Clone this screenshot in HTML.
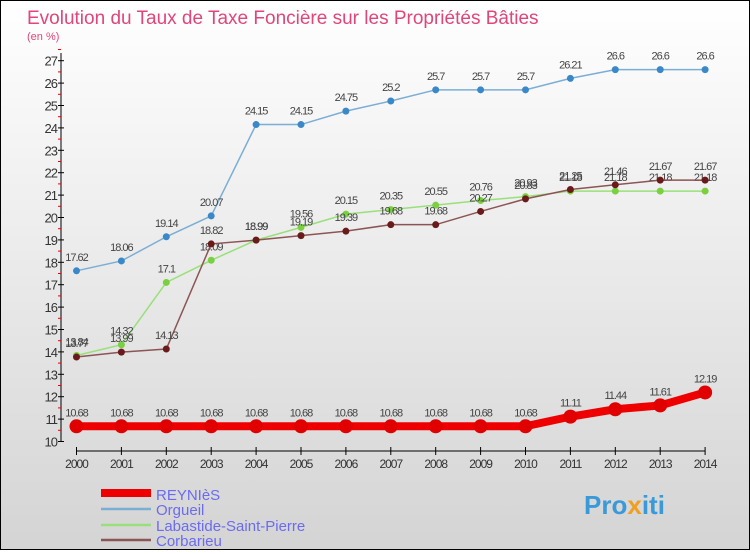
<!DOCTYPE html>
<html><head><meta charset="utf-8"><style>
body{margin:0;width:750px;height:550px;overflow:hidden;font-family:"Liberation Sans",sans-serif}
#wrap{position:relative;width:748px;height:548px;border:1px solid #000;background:linear-gradient(#ffffff,#d4d4d4)}
</style></head><body>
<div id="wrap">
<svg id="chart" width="748" height="548">
<text x="26" y="23" font-size="19" fill="#e0457b">Evolution du Taux de Taxe Foncière sur les Propriétés Bâties</text>
<text x="26" y="39" font-size="11" fill="#e0457b">(en %)</text>
<g id="axes"></g><g id="series"></g>
<g>
<line x1="100" y1="492" x2="150" y2="492" stroke="#ee0000" stroke-width="8"/>
<text x="155" y="499" font-size="15" fill="#6b6bf0">REYNIèS</text>
<line x1="100" y1="508" x2="150" y2="508" stroke="#7aaed4" stroke-width="2.5"/>
<text x="155" y="514" font-size="15" fill="#6b6bf0">Orgueil</text>
<line x1="100" y1="524" x2="150" y2="524" stroke="#99e07a" stroke-width="2.5"/>
<text x="155" y="530" font-size="15" fill="#6b6bf0">Labastide-Saint-Pierre</text>
<line x1="100" y1="539" x2="150" y2="539" stroke="#8b5555" stroke-width="2.5"/>
<text x="155" y="545" font-size="15" fill="#6b6bf0">Corbarieu</text>
</g>
<text x="583" y="513" font-size="26" font-weight="bold" fill="#3a9ad9">Pro<tspan fill="#f0a020">x</tspan>iti</text>
</svg></div>
<script>
const years=[2000,2001,2002,2003,2004,2005,2006,2007,2008,2009,2010,2011,2012,2013,2014];
const reynies=[10.68,10.68,10.68,10.68,10.68,10.68,10.68,10.68,10.68,10.68,10.68,11.11,11.44,11.61,12.19];
const orgueil=[17.62,18.06,19.14,20.07,24.15,24.15,24.75,25.2,25.7,25.7,25.7,26.21,26.6,26.6,26.6];
const labastide=[13.84,14.32,17.1,18.09,18.99,19.56,20.15,20.35,20.55,20.76,20.93,21.18,21.18,21.18,21.18];
const corbarieu=[13.77,13.99,14.13,18.82,18.99,19.19,19.39,19.68,19.68,20.27,20.83,21.25,21.46,21.67,21.67];
const yTicks=[10,11,12,13,14,15,16,17,18,19,20,21,22,23,24,25,26,27];
const NS="http://www.w3.org/2000/svg";
const x=i=>75.5+i*44.9;
const y=v=>440.5-(v-10)*22.4;
function mk(t,a,p){const e=document.createElementNS(NS,t);for(const k in a)e.setAttribute(k,a[k]);p.appendChild(e);return e;}
const ax=document.getElementById('axes');
let l=mk('line',{x1:60,y1:52,x2:60,y2:441,stroke:'#000'},ax);


yTicks.forEach(v=>{
 mk('line',{x1:57,y1:y(v),x2:63,y2:y(v),stroke:'#000'},ax);
 mk('line',{x1:57,y1:y(v+0.5),x2:60,y2:y(v+0.5),stroke:'#e00'},ax);
 const t=mk('text',{x:56,y:y(v)+5,'text-anchor':'end','font-size':13,fill:'#333','letter-spacing':'-1'},ax);
 t.textContent=v;
 
 
});
l=mk('line',{x1:x(0),y1:450,x2:x(14),y2:450,stroke:'#000'},ax);


years.forEach((yr,i)=>{
 mk('line',{x1:x(i),y1:446,x2:x(i),y2:454,stroke:'#000'},ax);
 const t=mk('text',{x:x(i),y:467,'text-anchor':'middle','font-size':12,fill:'#333','letter-spacing':'-1'},ax);
 t.textContent=yr;
 
 
});
const sg=document.getElementById('series');
function series(vals,color,dot,w,r,name){
 const g=mk('g',{},sg);
 
 
 const p=mk('polyline',{points:vals.map((v,i)=>x(i)+','+y(v)).join(' '),fill:'none',stroke:color,'stroke-width':w},g);
 
 
 vals.forEach((v,i)=>{
  const c=mk('circle',{cx:x(i),cy:y(v),r:r,fill:dot},g);
  
  
  const t=mk('text',{x:x(i),y:y(v)-10,'text-anchor':'middle','font-size':11,fill:'#444','letter-spacing':'-1'},g);
  t.textContent=v;
  
  
 });
}
series(orgueil,'#7aaed4','#3a88c8',1.5,3.5,'orgueil');
series(labastide,'#99e07a','#7ad040',1.5,3.5,'labastide');
series(corbarieu,'#8b5555','#6a1a1a',1.5,3.5,'corbarieu');
series(reynies,'#ee0000','#e00000',8,7,'reynies');
</script>
</body></html>
